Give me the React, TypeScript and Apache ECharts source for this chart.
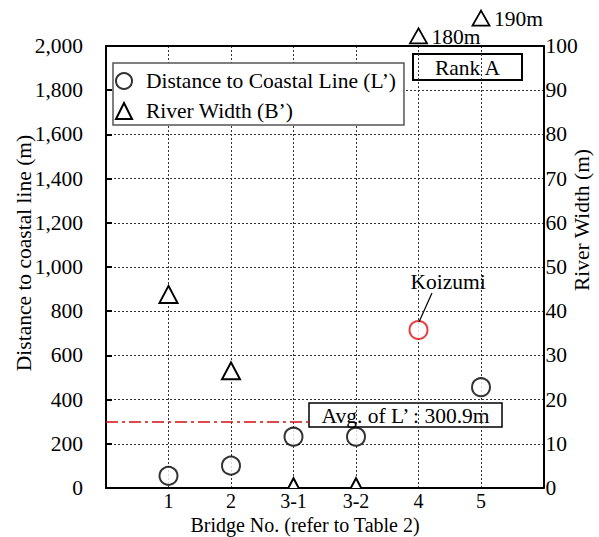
import React, { useEffect, useRef } from "react";
import * as echarts from "echarts";

const categories = ["1", "2", "3-1", "3-2", "4", "5"];
const distanceToCoast = [55, 101, 232, 232, 715, 456];
const riverWidth = [43.8, 26.5, 0.3, 0.3, 180, 190];
// where the off-scale river widths are drawn (right-axis units, above the plot)
const offScaleDisplay: (number | null)[] = [null, null, null, null, 102.3, 106.3];
const avgL = 300.9;
const avgLineEnd = 3.25;
const highlightIndex = 4; // Koizumi
const leftMax = 2000;
const leftInterval = 200;
const rightMax = 100;
const rightInterval = 10;

const FONT = "Liberation Serif";
const FS = 21.5;
const FSX = 20;
const nameL = "Distance to Coastal Line (L’)";
const nameB = "River Width (B’)";

export default function App() {
  const ref = useRef<HTMLDivElement>(null);
  useEffect(() => {
    if (!ref.current) return;
    const chart = echarts.init(ref.current, null, { renderer: "svg" });
    const gridLine = { show: true, lineStyle: { color: "#333", type: [2, 2], width: 1 } };
    const axisLine = { show: true, onZero: false, lineStyle: { color: "#000", width: 2 } };
    const tri = (x: number, y: number, w: number, h: number) => [
      [x, y - h / 2],
      [x - w / 2, y + h / 2],
      [x + w / 2, y + h / 2],
    ];
    const txt = (text: string, extra: any = {}) => ({
      text,
      fontFamily: FONT,
      fontSize: FS,
      lineHeight: 20,
      fill: "#000",
      align: "center",
      verticalAlign: "middle",
      ...extra,
    });
    chart.setOption({
      animation: false,
      textStyle: { fontFamily: FONT, color: "#000" },
      grid: { left: 106, right: 55.5, top: 46, bottom: 49 },
      legend: {
        left: 113,
        top: 63,
        orient: "vertical",
        itemWidth: 16,
        itemHeight: 16,
        itemGap: 8,
        padding: [7, 8, 3, 2],
        borderColor: "#555",
        borderWidth: 1.5,
        backgroundColor: "#fff",
        textStyle: { fontFamily: FONT, fontSize: FS, color: "#000", padding: [0, 0, 0, 9] },
        data: [
          { name: nameL, icon: "circle", itemStyle: { color: "#fff", borderColor: "#000", borderWidth: 2 } },
          { name: nameB, icon: "triangle", itemStyle: { color: "#fff", borderColor: "#000", borderWidth: 2 } },
        ],
      },
      xAxis: [
        {
          type: "value",
          min: 0,
          max: categories.length + 1,
          interval: 1,
          position: "bottom",
          axisLine,
          axisTick: { show: false },
          axisLabel: {
            fontFamily: FONT,
            fontSize: FSX,
            lineHeight: 20,
            color: "#000",
            margin: 3,
            formatter: (v: number) => (v >= 1 && v <= categories.length ? categories[v - 1] : ""),
          },
          splitLine: gridLine,
        },
        {
          type: "value",
          min: 0,
          max: categories.length + 1,
          interval: 1,
          position: "top",
          axisLine,
          axisTick: { show: false },
          axisLabel: { show: false },
          splitLine: { show: false },
        },
      ],
      yAxis: [
        {
          type: "value",
          min: 0,
          max: leftMax,
          interval: leftInterval,
          position: "left",
          axisLine,
          axisTick: { show: true, inside: true, length: 6, lineStyle: { color: "#000", width: 2 } },
          axisLabel: {
            fontFamily: FONT,
            fontSize: FS,
            color: "#000",
            margin: 23,
            formatter: (v: number) => v.toLocaleString("en-US"),
          },
          splitLine: gridLine,
        },
        {
          type: "value",
          min: 0,
          max: rightMax,
          interval: rightInterval,
          position: "right",
          axisLine,
          axisTick: { show: false },
          axisLabel: { fontFamily: FONT, fontSize: FS, color: "#000", margin: 2 },
          splitLine: { show: false },
        },
      ],
      series: [
        {
          name: nameL,
          type: "scatter",
          yAxisIndex: 0,
          symbol: "circle",
          symbolSize: 18,
          z: 5,
          itemStyle: { color: "#fff", borderColor: "#000", borderWidth: 2 },
          data: distanceToCoast.map((v, i) => ({
            value: [i + 1, v],
            itemStyle: i === highlightIndex ? { color: "#fff", borderColor: "#e01010", borderWidth: 2 } : undefined,
          })),
          markLine: {
            silent: true,
            symbol: ["none", "none"],
            label: { show: false },
            lineStyle: { color: "#d01010", type: [12, 4, 3, 4], width: 1.5 },
            data: [[{ coord: [0, avgL] }, { coord: [avgLineEnd, avgL] }]],
          },
        },
        {
          name: nameB,
          type: "custom",
          yAxisIndex: 1,
          clip: true,
          z: 5,
          itemStyle: { color: "#fff", borderColor: "#000", borderWidth: 2 },
          encode: { x: 0, y: 1 },
          data: riverWidth.map((v, i) => [i + 1, v]).filter((d) => d[1] <= rightMax),
          renderItem: (_p: any, api: any) => {
            const p = api.coord([api.value(0), api.value(1)]);
            return {
              type: "polygon",
              shape: { points: tri(p[0], p[1], 18, 17) },
              style: { fill: "#fff", stroke: "#000", lineWidth: 2 },
            };
          },
        },
        {
          name: "offscale",
          type: "custom",
          yAxisIndex: 1,
          clip: false,
          z: 5,
          encode: { x: 0, y: 1 },
          data: riverWidth
            .map((v, i) => [i + 1, offScaleDisplay[i], v])
            .filter((d) => d[1] != null),
          renderItem: (_p: any, api: any) => {
            const p = api.coord([api.value(0), api.value(1)]);
            return {
              type: "group",
              children: [
                {
                  type: "polygon",
                  shape: { points: tri(p[0], p[1], 17, 15) },
                  style: { fill: "#fff", stroke: "#000", lineWidth: 1.8 },
                },
                {
                  type: "text",
                  x: p[0] + 13,
                  y: p[1] + 1,
                  style: txt(api.value(2) + "m", { align: "left" }),
                },
              ],
            };
          },
        },
      ],
      graphic: [
        { type: "text", x: 24, y: 253, rotation: Math.PI / 2, style: txt("Distance to coastal line (m)") },
        { type: "text", x: 582, y: 220, rotation: Math.PI / 2, style: txt("River Width (m)") },
        { type: "text", x: 305, y: 525, style: txt("Bridge No. (refer to Table 2)", { fontSize: FSX }) },
        {
          type: "group",
          x: 413,
          y: 54,
          z: 10,
          children: [
            {
              type: "rect",
              shape: { x: 0, y: 0, width: 109, height: 26 },
              style: { fill: "#fff", stroke: "#000", lineWidth: 2 },
            },
            { type: "text", x: 54.5, y: 13.5, style: txt("Rank A") },
          ],
        },
        {
          type: "group",
          x: 309,
          y: 403,
          z: 10,
          children: [
            {
              type: "rect",
              shape: { x: 0, y: 0, width: 193, height: 24 },
              style: { fill: "#fff", stroke: "#000", lineWidth: 1.5 },
            },
            { type: "text", x: 96.5, y: 12.5, style: txt("Avg. of L’ : 300.9m") },
          ],
        },
        { type: "text", x: 448, y: 282, z: 10, style: txt("Koizumi") },
        {
          type: "line",
          z: 10,
          shape: { x1: 432, y1: 293, x2: 419, y2: 322 },
          style: { stroke: "#000", lineWidth: 1.2 },
        },
      ],
    });
    return () => chart.dispose();
  }, []);
  return <div ref={ref} style={{ width: 599, height: 537, position: "absolute", left: 0, top: 0 }} />;
}
